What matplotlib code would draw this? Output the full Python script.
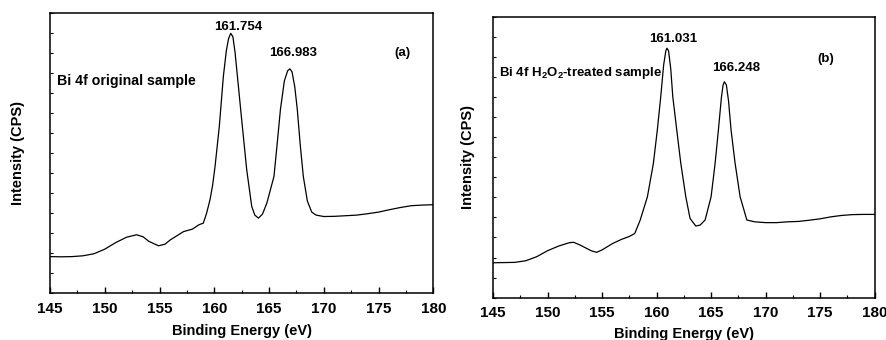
import matplotlib
matplotlib.use("Agg")
import matplotlib.pyplot as plt
from matplotlib.ticker import MultipleLocator, NullFormatter

plt.rcParams['font.family'] = ['Liberation Sans', 'DejaVu Sans']
plt.rcParams['font.weight'] = 'bold'
plt.rcParams['mathtext.fontset'] = 'custom'
plt.rcParams['mathtext.rm'] = 'Liberation Sans:bold'
plt.rcParams['mathtext.bf'] = 'Liberation Sans:bold'

# panel (a): Bi 4f original sample (intensity in arbitrary units)
energia_a = [145, 146, 147, 148, 149, 150, 151, 152, 152.9, 153.5, 154, 154.9, 155.5,
             156, 157.2, 158, 158.6, 159, 159.3, 159.61, 159.85, 160.07, 160.46, 160.83,
             161.1, 161.3, 161.5, 161.7, 161.9, 162.05, 162.5, 162.96, 163.42, 163.7,
             164.03, 164.4, 164.8, 165.45, 165.75, 166.04, 166.4, 166.7, 166.9, 167.1,
             167.35, 167.58, 167.85, 168.13, 168.5, 168.9, 169.3, 170, 171, 172, 173,
             174, 175, 176, 177, 178, 179, 180]
intens_a = [1.83, 1.82, 1.83, 1.87, 1.97, 2.2, 2.53, 2.8, 2.92, 2.82, 2.6, 2.37, 2.45,
            2.67, 3.08, 3.2, 3.42, 3.5, 4.0, 4.67, 5.4, 6.33, 8.33, 10.83,
            12.1, 12.7, 12.97, 12.8, 12.0, 11.17, 8.67, 6.17, 4.33, 3.9,
            3.75, 3.95, 4.5, 5.83, 7.5, 9.17, 10.6, 11.1, 11.2, 11.05,
            10.3, 9.17, 7.4, 5.83, 4.6, 4.05, 3.9, 3.83, 3.84, 3.87, 3.9,
            3.97, 4.05, 4.17, 4.28, 4.37, 4.4, 4.42]

# panel (b): Bi 4f H2O2-treated sample
energia_b = [145, 146, 147, 148, 149, 150, 151, 152, 152.4, 153, 154, 154.5, 155, 156,
             156.8, 157.5, 158, 158.5, 159.16, 159.71, 160.07, 160.38, 160.65, 160.85,
             160.95, 161.1, 161.3, 161.49, 161.85, 162.22, 162.68, 163.07, 163.6, 164.0,
             164.45, 165.0, 165.37, 165.67, 165.95, 166.1, 166.22, 166.4, 166.6, 166.83,
             167.2, 167.66, 168.28, 169, 170, 171, 172, 173, 174, 175, 176, 177, 178,
             179, 180]
intens_b = [1.74, 1.75, 1.76, 1.84, 2.04, 2.34, 2.57, 2.74, 2.76, 2.62, 2.34, 2.26, 2.38,
            2.71, 2.91, 3.05, 3.2, 3.87, 5.03, 6.7, 8.36, 10.0, 11.6, 12.3,
            12.43, 12.3, 11.4, 10.0, 8.36, 6.7, 5.03, 3.95, 3.57, 3.62,
            3.87, 5.03, 6.7, 8.36, 10.0, 10.6, 10.76, 10.6, 9.8, 8.36,
            6.7, 5.03, 3.87, 3.78, 3.74, 3.74, 3.78, 3.8, 3.86, 3.93, 4.03, 4.1, 4.14,
            4.15, 4.15]

picos_a = [161.754, 166.983]
picos_b = [161.031, 166.248]


def preparar_ejes(ax, ylab_x, xlab_y):
    ax.set_xlim(145, 180)
    ax.set_ylim(0, 14)
    ax.xaxis.set_major_locator(MultipleLocator(5))
    ax.xaxis.set_minor_locator(MultipleLocator(2.5))
    ax.yaxis.set_major_locator(MultipleLocator(1))
    ax.yaxis.set_major_formatter(NullFormatter())
    ax.tick_params(axis='x', which='major', direction='in', length=4.5, width=1,
                   labelsize=11, pad=6)
    ax.tick_params(axis='x', which='minor', direction='in', length=2.5, width=0.8)
    ax.tick_params(axis='y', which='major', direction='in', length=2, width=0.8)
    for s in ax.spines.values():
        s.set_linewidth(1.1)
    ax.set_xlabel('Binding Energy (eV)', fontsize=10.5, fontweight='bold')
    ax.set_ylabel('Intensity (CPS)', fontsize=10.5, fontweight='bold')
    ax.yaxis.set_label_coords(ylab_x, 0.5)
    ax.xaxis.set_label_coords(0.5, xlab_y)


fig = plt.figure(figsize=(8.87, 3.40), dpi=100)

ax1 = fig.add_axes([0.0564, 0.1374, 0.4321, 0.8253])
ax1.plot(energia_a, intens_a, color='black', lw=0.9)
preparar_ejes(ax1, -0.066, -0.108)
ax1.text(162.2, 13.3, f'{picos_a[0]:.3f}', ha='center', va='center', fontsize=9.5, fontweight='bold')
ax1.text(167.2, 12.0, f'{picos_a[1]:.3f}', ha='center', va='center', fontsize=9.5, fontweight='bold')
ax1.text(177.15, 12.0, '(a)', ha='center', va='center', fontsize=9.5, fontweight='bold')
ax1.text(145.65, 10.6, 'Bi 4f original sample', ha='left', va='center', fontsize=10.2, fontweight='bold')

ax2 = fig.add_axes([0.5558, 0.1244, 0.4303, 0.8265])
ax2.plot(energia_b, intens_b, color='black', lw=0.9)
preparar_ejes(ax2, -0.048, -0.106)
ax2.text(161.5, 12.9, f'{picos_b[0]:.3f}', ha='center', va='center', fontsize=9.5, fontweight='bold')
ax2.text(167.3, 11.45, f'{picos_b[1]:.3f}', ha='center', va='center', fontsize=9.5, fontweight='bold')
ax2.text(175.55, 11.9, '(b)', ha='center', va='center', fontsize=9.5, fontweight='bold')
ax2.text(145.55, 11.2, r'Bi 4f H$_\mathbf{2}$O$_\mathbf{2}$-treated sample', ha='left', va='center',
         fontsize=9.5, fontweight='bold')

fig.savefig('out.png', dpi=100)
